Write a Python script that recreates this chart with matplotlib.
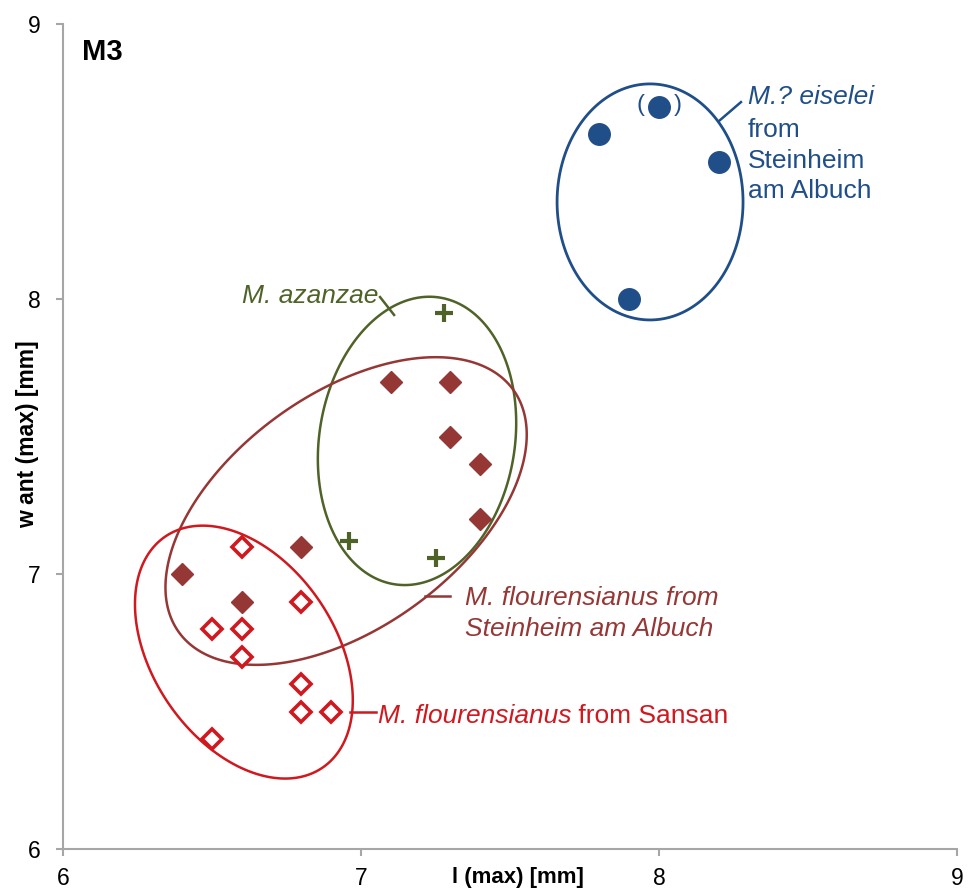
import numpy as np
import matplotlib
matplotlib.use("Agg")
import matplotlib.pyplot as plt
from matplotlib.patches import Polygon

plt.rcParams['font.family'] = ['Liberation Sans', 'DejaVu Sans']

# Measurements: length l (max) and anterior width w ant (max) of M3, in mm
sansan_l = [6.6, 6.5, 6.6, 6.6, 6.8, 6.8, 6.8, 6.9, 6.5]
sansan_w = [7.1, 6.8, 6.8, 6.7, 6.9, 6.6, 6.5, 6.5, 6.4]

steinheim_l = [6.4, 6.6, 6.8, 7.1, 7.3, 7.3, 7.4, 7.4]
steinheim_w = [7.0, 6.9, 7.1, 7.7, 7.7, 7.5, 7.4, 7.2]

azanzae_l = [7.28, 6.96, 7.25]
azanzae_w = [7.95, 7.12, 7.06]

eiselei_l = [7.8, 8.0, 8.2, 7.9]
eiselei_w = [8.6, 8.7, 8.5, 8.0]

x_ticks = [6, 7, 8, 9]
y_ticks = [6, 7, 8, 9]

C_BLUE = '#1F4E89'
C_GREEN = '#4F6228'
C_DKRED = '#953735'
C_RED = '#D0191F'
C_AXIS = '#A6A6A6'

fig = plt.figure(figsize=(9.77, 8.90), dpi=100)
ax = fig.add_axes([63 / 977, 1 - 849 / 890, 894 / 977, 825 / 890])
ax.set_xlim(6, 9)
ax.set_ylim(6, 9)
ax.set_xticks(x_ticks)
ax.set_yticks(y_ticks)
ax.set_xticklabels([str(v) for v in x_ticks], fontsize=16.5)
ax.set_yticklabels([str(v) for v in y_ticks], fontsize=16.5)
for side in ('top', 'right'):
    ax.spines[side].set_visible(False)
for side in ('left', 'bottom'):
    ax.spines[side].set_color(C_AXIS)
    ax.spines[side].set_linewidth(1.5)
ax.tick_params(axis='both', direction='out', length=5, width=1.5,
               color=C_AXIS, labelcolor='black')
ax.tick_params(axis='x', pad=8)
ax.tick_params(axis='y', pad=11)

ax.set_xlabel('l (max) [mm]', fontsize=16, fontweight='bold')
ax.xaxis.set_label_coords((518 - 63) / 894, (849 - 877) / 825)
ax.set_ylabel('w ant (max) [mm]', fontsize=16.5, fontweight='bold')
ax.yaxis.set_label_coords((28 - 63) / 894, (849 - 434) / 825)
ax.xaxis.label.set_va('center')
ax.yaxis.label.set_va('center')

ax.text(0.021, 0.966, 'M3', transform=ax.transAxes, fontsize=21,
        fontweight='bold', ha='left', va='center')


def group_ellipse(cx, cy, a, b, angle, color, lw=1.8):
    """Ellipse around a group; a, b are semi-axes in x-axis units,
    angle is measured on screen (degrees, counter-clockwise)."""
    p0 = ax.transData.transform((cx, cy))
    ppu = ax.transData.transform((cx + 1, cy))[0] - p0[0]
    t = np.linspace(0, 2 * np.pi, 400, endpoint=False)
    th = np.deg2rad(angle)
    u = a * ppu * np.cos(t)
    v = b * ppu * np.sin(t)
    dx = u * np.cos(th) - v * np.sin(th)
    dy = u * np.sin(th) + v * np.cos(th)
    pts = ax.transData.inverted().transform(np.column_stack([p0[0] + dx, p0[1] + dy]))
    ax.add_patch(Polygon(pts, closed=True, fill=False, edgecolor=color,
                         lw=lw, zorder=2, clip_on=False))


group_ellipse(7.970, 8.353, 0.396, 0.312, 90, C_BLUE, lw=2.0)
group_ellipse(7.188, 7.484, 0.487, 0.328, 81, C_GREEN)
group_ellipse(6.950, 7.229, 0.693, 0.392, 36, C_DKRED)
group_ellipse(6.607, 6.716, 0.469, 0.306, -55.8, C_RED)

# Points
ax.plot(steinheim_l, steinheim_w, linestyle='none', marker='D', ms=11,
        mfc=C_DKRED, mec=C_DKRED, mew=1, zorder=4)
ax.plot(sansan_l, sansan_w, linestyle='none', marker='D', ms=10.5,
        mfc='white', mec=C_RED, mew=2.6, zorder=4)
ax.plot(azanzae_l, azanzae_w, linestyle='none', marker='+', ms=13.5,
        mec=C_GREEN, mew=3, zorder=4)
ax.plot(eiselei_l, eiselei_w, linestyle='none', marker='o', ms=15.5,
        mfc=C_BLUE, mec=C_BLUE, zorder=4)

# Bracketed specimen
ax.annotate('(', xy=(eiselei_l[1], eiselei_w[1]), xytext=(-13.5, 1),
            textcoords='offset points', ha='center', va='center',
            fontsize=17, color=C_BLUE)
ax.annotate(')', xy=(eiselei_l[1], eiselei_w[1]), xytext=(13.5, 1),
            textcoords='offset points', ha='center', va='center',
            fontsize=17, color=C_BLUE)

FS = 19

# Leader lines
ax.plot([8.201, 8.275], [8.647, 8.716], color=C_BLUE, lw=1.8, zorder=3)
ax.plot([7.064, 7.111], [8.007, 7.942], color=C_GREEN, lw=1.8, zorder=3)
ax.plot([7.215, 7.299], [6.920, 6.920], color=C_DKRED, lw=1.8, zorder=3)
ax.plot([6.963, 7.050], [6.498, 6.498], color=C_RED, lw=1.8, zorder=3)

# Group labels
ax.text(8.299, 8.735, 'M.? eiselei', color=C_BLUE, fontsize=FS,
        fontstyle='italic', ha='left', va='center')
for txt, yv in zip(['from', 'Steinheim', 'am Albuch'], [8.615, 8.502, 8.393]):
    ax.text(8.299, yv, txt, color=C_BLUE, fontsize=FS, ha='left', va='center')

ax.text(7.057, 8.011, 'M. azanzae', color=C_GREEN, fontsize=FS,
        fontstyle='italic', ha='right', va='center')

ax.text(7.349, 6.913, 'M. flourensianus from', color=C_DKRED, fontsize=FS,
        fontstyle='italic', ha='left', va='center')
ax.text(7.349, 6.800, 'Steinheim am Albuch', color=C_DKRED, fontsize=FS,
        fontstyle='italic', ha='left', va='center')

t_it = ax.text(7.057, 6.484, 'M. flourensianus', color=C_RED, fontsize=FS,
               fontstyle='italic', ha='left', va='center')
renderer = fig.canvas.get_renderer()
bb = t_it.get_window_extent(renderer)
x_end = ax.transData.inverted().transform((bb.x1, bb.y0))[0]
ax.text(x_end, 6.484, ' from Sansan', color=C_RED, fontsize=FS,
        ha='left', va='center')

fig.savefig('out.png', dpi=100)
